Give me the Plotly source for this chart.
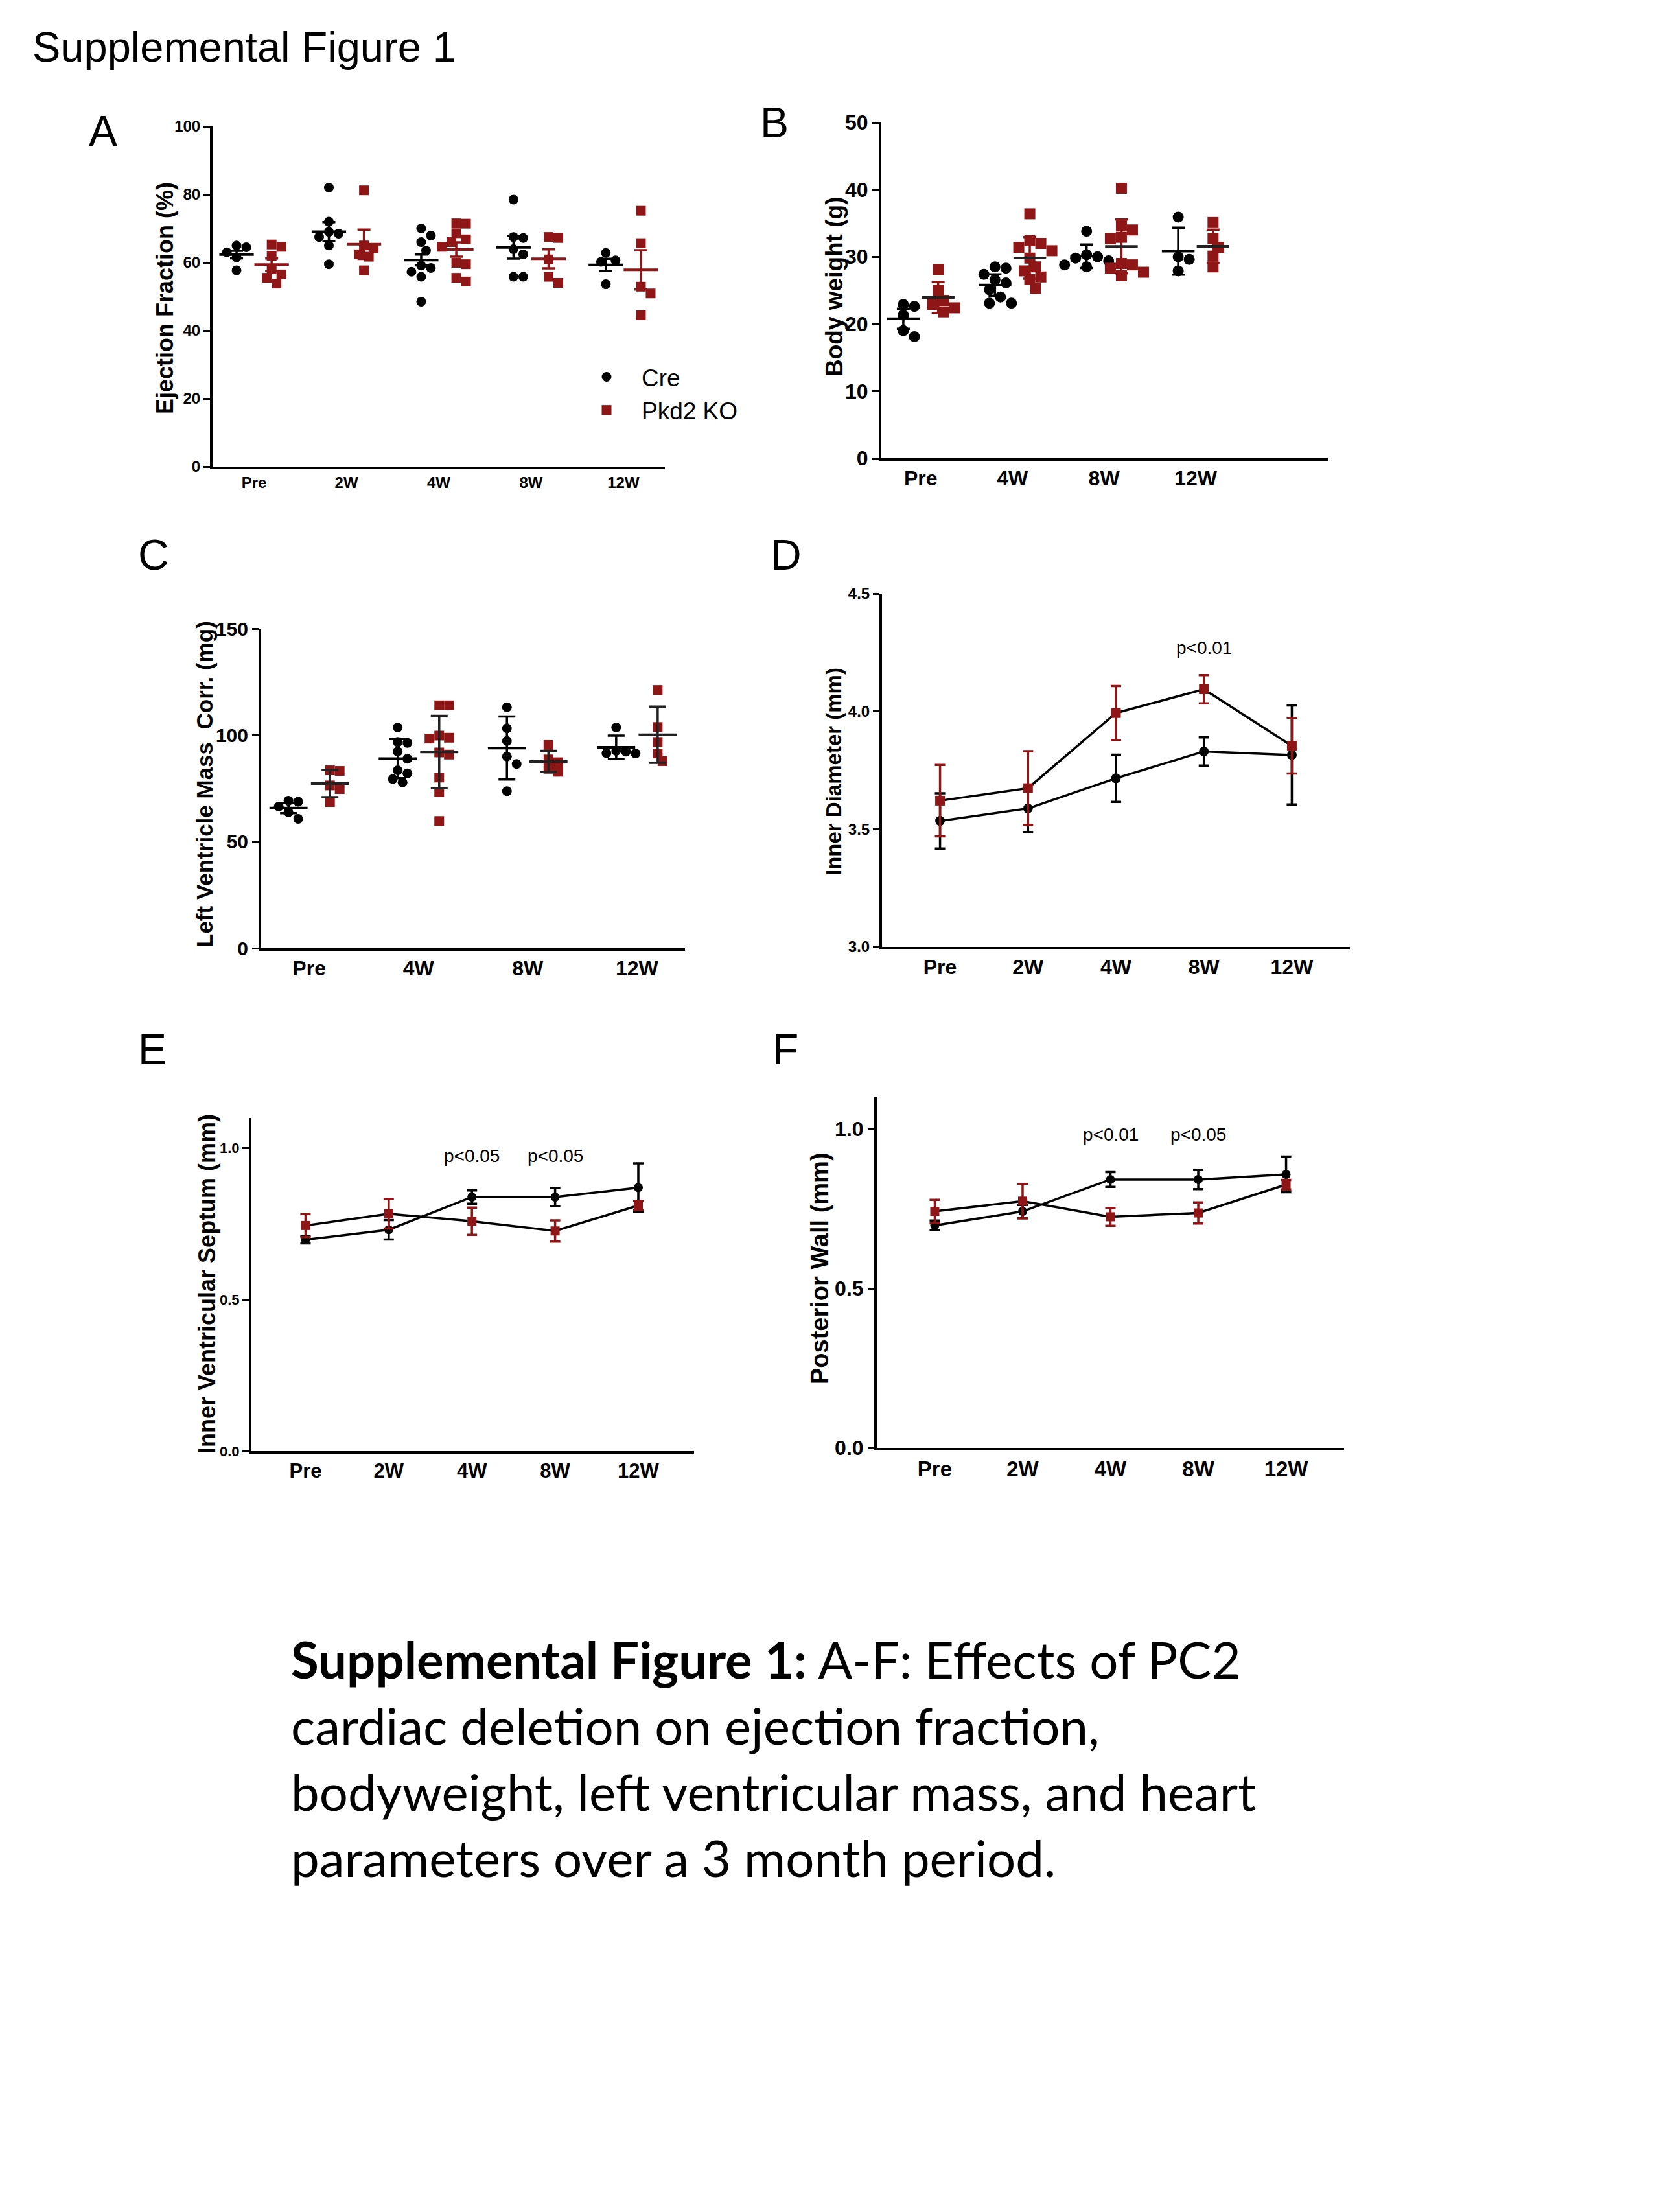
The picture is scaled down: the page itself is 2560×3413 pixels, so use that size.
import numpy as np
import plotly.graph_objects as go

W, H = 2560, 3413
RED = '#8E1616'
FONT = 'Liberation Sans'

tp5 = ['Pre', '2W', '4W', '8W', '12W']
tp4 = ['Pre', '4W', '8W', '12W']

# ---- Panel A: Ejection Fraction (%) ----
ef_cre = [[65.0, 64.5, 63.0, 61.5, 57.7],
          [82.0, 72.0, 69.0, 68.5, 67.5, 65.0, 59.5],
          [70.0, 67.9, 66.0, 63.5, 59.1, 58.4, 57.3, 55.8, 48.5],
          [78.5, 67.5, 67.2, 63.9, 62.4, 55.8, 55.8],
          [62.8, 60.6, 60.2, 53.6]]
ef_ko = [[65.3, 64.6, 62.0, 58.0, 56.5, 55.5, 53.8],
         [81.2, 65.0, 64.2, 62.4, 61.7, 57.7],
         [71.5, 71.4, 68.6, 66.8, 66.0, 64.6, 59.9, 59.5, 55.5, 54.4],
         [67.5, 67.2, 60.9, 55.8, 54.0],
         [75.2, 65.7, 52.9, 50.9, 44.5]]
ef_cre_err = [1.1, 2.8, 1.6, 3.3, 1.8]
ef_ko_err = [1.8, 4.3, 2.1, 2.8, 5.8]

# ---- Panel B: Body weight (g) ----
bw_cre = [[22.9, 22.6, 21.3, 19.0, 18.1],
          [28.5, 28.3, 27.4, 26.6, 26.1, 25.1, 24.0, 23.1, 23.1],
          [33.8, 30.3, 30.0, 29.8, 29.4, 28.8, 28.5],
          [35.9, 30.0, 29.6, 27.9]]
bw_ko = [[28.1, 25.0, 23.5, 22.9, 22.4, 21.8],
         [36.4, 32.4, 32.0, 31.4, 30.9, 29.8, 28.5, 27.9, 27.0, 26.6, 25.3],
         [40.2, 34.6, 34.0, 32.9, 32.7, 29.0, 28.8, 28.3, 27.7, 27.2],
         [35.1, 32.7, 31.4, 30.1, 28.5]]
bw_cre_err = [1.5, 1.6, 1.75, 3.5]
bw_ko_err = [2.3, 3.1, 4.0, 2.5]

# ---- Panel C: Left Ventricle Mass Corr. (mg) ----
lv_cre = [[69.2, 68.8, 66.5, 63.8, 60.7],
          [103.6, 96.8, 96.4, 92.3, 88.9, 83.5, 82.1, 79.4, 77.8],
          [113.1, 103.2, 97.3, 90.0, 86.5, 73.7],
          [103.6, 92.7, 92.3, 91.6, 91.4]]
lv_ko = [[83.5, 83.2, 76.4, 74.7, 68.6],
         [114.0, 114.0, 99.8, 98.8, 98.4, 91.9, 90.9, 80.1, 73.3, 59.7],
         [95.4, 88.6, 87.3, 84.2, 82.8],
         [121.2, 103.8, 96.8, 91.4, 87.8]]
lv_cre_err = [2.4, 9.2, 14.8, 5.5]
lv_ko_err = [6.4, 17.0, 5.0, 13.2]

# ---- Panel D: Inner Diameter (mm) ----
id_cre = [3.535, 3.588, 3.716, 3.830, 3.815]
id_cre_err = [0.117, 0.100, 0.100, 0.060, 0.210]
id_ko = [3.621, 3.674, 3.993, 4.094, 3.854]
id_ko_err = [0.152, 0.157, 0.115, 0.060, 0.118]

# ---- Panel E: Inner Ventricular Septum (mm) ----
ivs_cre = [0.698, 0.731, 0.839, 0.839, 0.870]
ivs_cre_err = [0.012, 0.032, 0.022, 0.030, 0.080]
ivs_ko = [0.745, 0.784, 0.759, 0.727, 0.811]
ivs_ko_err = [0.038, 0.049, 0.045, 0.035, 0.015]

# ---- Panel F: Posterior Wall (mm) ----
pw_cre = [0.698, 0.742, 0.842, 0.842, 0.858]
pw_cre_err = [0.015, 0.020, 0.023, 0.030, 0.056]
pw_ko = [0.742, 0.774, 0.725, 0.737, 0.826]
pw_ko_err = [0.036, 0.054, 0.028, 0.033, 0.015]

p_D = [(3, 4.27, 'p<0.01')]
p_E = [(2, 0.974, 'p<0.05'), (3, 0.974, 'p<0.05')]
p_F = [(2, 0.984, 'p<0.01'), (3, 0.984, 'p<0.05')]


def dx(a, b):
    return [a / W, b / W]


def dy(top, bot):
    return [1 - bot / H, 1 - top / H]


def swarm(values, center, size_px, ppx, ppy):
    placed = []
    xs = [center] * len(values)
    order = np.argsort(values)[::-1]
    step = size_px * 0.5
    cands = [0.0]
    for j in range(1, 60):
        cands += [j * step, -j * step]
    for i in order:
        yv = values[i] * ppy
        for c in cands:
            if all((c - px) ** 2 + (yv - py) ** 2 >= (size_px * 0.92) ** 2 for px, py in placed):
                placed.append((c, yv))
                xs[i] = center + c / ppx
                break
    return xs


fig = go.Figure()


def dot_panel(n, cre, ko, cre_err, ko_err, size, ppx, ppy, off, mean_len, cap,
              ko_mean_col, ko_err_col, legend=False):
    xa = 'x' if n == 1 else 'x%d' % n
    ya = 'y' if n == 1 else 'y%d' % n
    for groups, sym, col, sgn, name in [(cre, 'circle', 'black', -1, 'Cre'),
                                        (ko, 'square', RED, 1, 'Pkd2 KO')]:
        xs, ys = [], []
        for i, g in enumerate(groups):
            xs += swarm(g, i + sgn * off, size, ppx, ppy)
            ys += list(g)
        fig.add_trace(go.Scatter(x=xs, y=ys, mode='markers', xaxis=xa, yaxis=ya,
                                 name=name, showlegend=legend, cliponaxis=False,
                                 marker=dict(symbol=sym, size=size, color=col, line=dict(width=0))))
    for groups, err, sgn, mcol, ecol in [(cre, cre_err, -1, 'black', 'black'),
                                         (ko, ko_err, 1, ko_mean_col, ko_err_col)]:
        cx = [i + sgn * off for i in range(len(groups))]
        means = [float(np.mean(g)) for g in groups]
        fig.add_trace(go.Scatter(x=cx, y=means, mode='markers', xaxis=xa, yaxis=ya,
                                 showlegend=False, cliponaxis=False,
                                 marker=dict(size=1, color='rgba(0,0,0,0)'),
                                 error_y=dict(type='data', array=err, width=cap, thickness=3.5, color=ecol)))
        fig.add_trace(go.Scatter(x=cx, y=means, mode='markers', xaxis=xa, yaxis=ya,
                                 showlegend=False, cliponaxis=False,
                                 marker=dict(symbol='line-ew', size=mean_len, color=mcol,
                                             line=dict(width=4, color=mcol))))


def line_panel(n, cre, cre_err, ko, ko_err, size):
    xa = 'x%d' % n
    ya = 'y%d' % n
    for vals, err, sym, col in [(cre, cre_err, 'circle', 'black'), (ko, ko_err, 'square', RED)]:
        fig.add_trace(go.Scatter(x=list(range(len(vals))), y=vals, mode='lines+markers',
                                 xaxis=xa, yaxis=ya, showlegend=False, cliponaxis=False,
                                 line=dict(color='black', width=3.5),
                                 marker=dict(symbol=sym, size=size, color=col),
                                 error_y=dict(type='data', array=err, width=8, thickness=3.5, color=col)))


dot_panel(1, ef_cre, ef_ko, ef_cre_err, ef_ko_err, 15, 142.5, 5.25, 0.19, 38, 10, RED, RED, legend=True)
dot_panel(2, bw_cre, bw_ko, bw_cre_err, bw_ko_err, 17, 141.3, 10.36, 0.19, 36, 10, '#222222', RED)
dot_panel(3, lv_cre, lv_ko, lv_cre_err, lv_ko_err, 15, 168.7, 3.287, 0.19, 42, 13, '#222222', '#222222')
line_panel(4, id_cre, id_cre_err, id_ko, id_ko_err, 15)
line_panel(5, ivs_cre, ivs_cre_err, ivs_ko, ivs_ko_err, 14)
line_panel(6, pw_cre, pw_cre_err, pw_ko, pw_ko_err, 14)

axcommon = dict(showline=True, linewidth=4, linecolor='black', showgrid=False, zeroline=False,
                mirror=False, automargin=False)

panels = [
    # n, xdom, ydom, xrange, yrange, ytickvals, yticktext, cats, tick_size, cat_size
    (1, dx(328, 1026), dy(195, 720), [-0.45, 4.45], [0, 100], [0, 20, 40, 60, 80, 100],
     ['0', '20', '40', '60', '80', '100'], tp5, 24, 24),
    (2, dx(1360, 2050), dy(189, 707), [-0.43, 4.45], [0, 50], [0, 10, 20, 30, 40, 50],
     ['0', '10', '20', '30', '40', '50'], tp4, 32, 32),
    (3, dx(403, 1057), dy(970, 1463), [-0.44, 3.44], [0, 150], [0, 50, 100, 150],
     ['0', '50', '100', '150'], tp4, 30, 32),
    (4, dx(1361, 2083), dy(916, 1461), [-0.66, 4.66], [3.0, 4.5], [3.0, 3.5, 4.0, 4.5],
     ['3.0', '3.5', '4.0', '4.5'], tp5, 24, 32),
    (5, dx(388, 1071), dy(1725, 2239), [-0.65, 4.67], [0, 1.1], [0, 0.5, 1.0],
     ['0.0', '0.5', '1.0'], tp5, 22, 31),
    (6, dx(1353, 2074), dy(1693, 2234), [-0.66, 4.66], [0, 1.1], [0, 0.5, 1.0],
     ['0.0', '0.5', '1.0'], tp5, 32, 33),
]

layout = {}
for n, xd, yd, xr, yr, ytv, ytt, cats, tsz, csz in panels:
    xk = 'xaxis' if n == 1 else 'xaxis%d' % n
    yk = 'yaxis' if n == 1 else 'yaxis%d' % n
    ya = 'y' if n == 1 else 'y%d' % n
    xa = 'x' if n == 1 else 'x%d' % n
    layout[xk] = dict(axcommon, domain=xd, range=xr, anchor=ya, tickmode='array',
                      tickvals=list(range(len(cats))), ticktext=cats, ticks='',
                      tickfont=dict(family=FONT, size=csz, color='black', weight='bold'))
    layout[yk] = dict(axcommon, domain=yd, range=yr, anchor=xa, tickmode='array',
                      tickvals=ytv, ticktext=ytt, ticks='outside', ticklen=10, tickwidth=3,
                      tickcolor='black',
                      tickfont=dict(family=FONT, size=tsz, color='black', weight='bold'))

annotations = []


def pann(text, x, y, size, bold=False, family=FONT, angle=0, xanchor='center', yanchor='middle'):
    annotations.append(dict(text=text, x=x / W, y=1 - y / H, xref='paper', yref='paper',
                            showarrow=False, textangle=angle, xanchor=xanchor, yanchor=yanchor,
                            font=dict(family=family, size=size, color='black',
                                      weight='bold' if bold else 'normal')))


pann('Supplemental Figure 1', 48, 72, 65, xanchor='left')
for letter, x, y in [('A', 159, 202), ('B', 1195, 189), ('C', 237, 856),
                     ('D', 1213, 856), ('E', 235, 1619), ('F', 1212, 1619)]:
    pann(letter, x, y, 66)

ylabels = [('Ejection Fraction (%)', 255, 460, 36),
           ('Body weight (g)', 1287, 443, 37),
           ('Left Ventricle Mass  Corr. (mg)', 316, 1210, 35),
           ('Inner Diameter (mm)', 1286, 1191, 33),
           ('Inner Ventricular Septum (mm)', 319, 1981, 36),
           ('Posterior Wall (mm)', 1265, 1957, 38)]
for t, x, y, s in ylabels:
    pann(t.replace('  ', '&nbsp; '), x, y, s, bold=True, angle=-90)

for n, plist in [(4, p_D), (5, p_E), (6, p_F)]:
    for xv, yv, t in plist:
        annotations.append(dict(text=t, x=xv, y=yv, xref='x%d' % n, yref='y%d' % n,
                                showarrow=False, yanchor='middle',
                                font=dict(family=FONT, size=28, color='black')))

caption = ['<b>Supplemental Figure 1:</b> A-F: Effects of PC2',
           'cardiac deletion on ejection fraction,',
           'bodyweight, left ventricular mass, and heart',
           'parameters over a 3 month period.']
for i, line in enumerate(caption):
    pann(line, 447, 2560 + i * 102, 78, family='Lato', xanchor='left')

fig.update_layout(**layout)
fig.update_layout(template='none', width=W, height=H, margin=dict(l=0, r=0, t=0, b=0, pad=0),
                  paper_bgcolor='white', plot_bgcolor='white',
                  annotations=annotations,
                  legend=dict(x=882 / W, y=1 - 551 / H, xanchor='left', yanchor='top',
                              font=dict(family=FONT, size=37, color='black'),
                              bgcolor='rgba(0,0,0,0)', itemwidth=98,
                              tracegroupgap=0))

fig.write_html('out.html', config={'displayModeBar': False},
               post_script="document.body.style.margin='0px';")
